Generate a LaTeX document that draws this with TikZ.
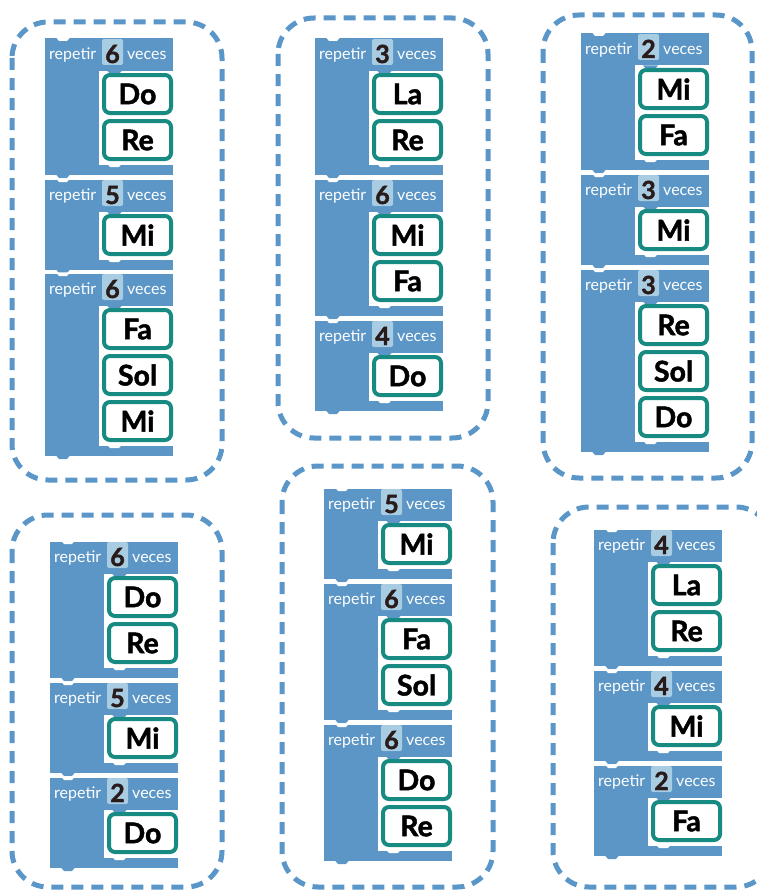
\documentclass[tikz,border=0pt]{standalone}
\usepackage{fontspec}
\setmainfont{Lato}
\newfontfamily\heavyfont{Lato}[BoldFeatures={FakeBold=1.6}]
\definecolor{blk}{HTML}{5B96C6}
\definecolor{dashc}{HTML}{5A96C8}
\definecolor{notet}{HTML}{178A82}
\definecolor{badgec}{HTML}{A8CCE2}
\definecolor{numc}{HTML}{2A1B1B}
\tikzset{
  blkfill/.style={fill=blk, draw=white, line width=1pt},
  notebox/.style={draw=notet, line width=4pt, fill=white, rounded corners=6pt, minimum width=67pt, minimum height=38pt, inner sep=0pt, font=\heavyfont\fontsize{28.5}{30}\selectfont\bfseries, text=black},
  badgebox/.style={fill=badgec, rounded corners=2pt, minimum width=21pt, minimum height=26pt, inner sep=0pt},
  numtxt/.style={font=\heavyfont\fontsize{25}{26}\selectfont\bfseries, text=numc, inner sep=0pt, anchor=base},
  labtxt/.style={font=\fontsize{16}{18}\selectfont, text=white, inner sep=0pt, anchor=base west},
  dashbox/.style={draw=dashc, line width=5pt, dash pattern=on 12pt off 8pt, rounded corners=36pt},
}
\newcommand{\repblk}[5]{%
  \begin{scope}
  \pgfmathsetmacro{\Lx}{#2}
  \pgfmathsetmacro{\Ty}{#3}
  \foreach \nm [count=\i] in {#5} {\xdef\nn{\i}}
  \pgfmathsetmacro{\Rx}{\Lx+129}
  \pgfmathsetmacro{\Hy}{\Ty+33}
  \pgfmathsetmacro{\IB}{\Ty+35+46*\nn-1}
  \pgfmathsetmacro{\By}{\IB+11}
  \path[blkfill] (\Lx,\Ty) -- (\Rx,\Ty) -- (\Rx,\Hy) -- (\Lx+55,\Hy) -- (\Lx+55,\IB) -- (\Rx,\IB) -- (\Rx,\By) -- (\Lx,\By) -- cycle;
  \fill[white] (\Lx+12,\Ty-0.6) -- (\Lx+15,\Ty+3) -- (\Lx+23,\Ty+3) -- (\Lx+26,\Ty-0.6) -- cycle;
  \fill[blk] (\Lx+12,\By-0.5) -- (\Lx+15,\By+3) -- (\Lx+23,\By+3) -- (\Lx+26,\By-0.5) -- cycle;
  \fill[blk] (\Lx+63,\Hy-0.6) -- (\Lx+66,\Hy+3) -- (\Lx+75,\Hy+3) -- (\Lx+78,\Hy-0.6) -- cycle;
  \fill[white] (\Lx+63,\IB-0.5) -- (\Lx+66,\IB+3) -- (\Lx+75,\IB+3) -- (\Lx+78,\IB-0.5) -- cycle;
  \node[labtxt] (#1-rep) at (\Lx+5,\Ty+21.5) {repetir};
  \node[badgebox] (#1-badge) at (\Lx+68.5,\Ty+14) {};
  \node[numtxt] (#1-num) at (\Lx+68.5,\Ty+25) {#4};
  \node[labtxt] (#1-veces) at (\Lx+83,\Ty+21.5) {veces};
  \foreach \nm [count=\i] in {#5} {
    \node[notebox] (#1-n\i) at (\Lx+93.5, \Ty+35+46*\i-25) {\nm};
  }
  \end{scope}
}
\begin{document}
\begin{tikzpicture}[x=1pt,y=-1pt]
\useasboundingbox (0,0) rectangle (756,891);
\fill[white] (0,0) rectangle (756,891);
% dashed frames
\draw[dashbox] (12,22) rectangle (222,480);
\draw[dashbox] (278,18) rectangle (488,438);
\draw[dashbox] (543,15) rectangle (752,478);
\draw[dashbox] (12,515) rectangle (222,887);
\draw[dashbox] (282,466) rectangle (493,887);
\draw[dashbox] (553,507) rectangle (772,887);
% group 1
\repblk{a1}{44}{38}{6}{Do,Re}
\repblk{a2}{44}{179}{5}{Mi}
\repblk{a3}{44}{273}{6}{Fa,Sol,Mi}
% group 2
\repblk{b1}{314}{38}{3}{La,Re}
\repblk{b2}{314}{179}{6}{Mi,Fa}
\repblk{b3}{314}{320}{4}{Do}
% group 3
\repblk{c1}{580}{33}{2}{Mi,Fa}
\repblk{c2}{580}{174}{3}{Mi}
\repblk{c3}{580}{269}{3}{Re,Sol,Do}
% group 4
\repblk{d1}{49}{541}{6}{Do,Re}
\repblk{d2}{49}{682}{5}{Mi}
\repblk{d3}{49}{777}{2}{Do}
% group 5
\repblk{e1}{323}{488}{5}{Mi}
\repblk{e2}{323}{583}{6}{Fa,Sol}
\repblk{e3}{323}{724}{6}{Do,Re}
% group 6
\repblk{f1}{593}{529}{4}{La,Re}
\repblk{f2}{593}{670}{4}{Mi}
\repblk{f3}{593}{765}{2}{Fa}
\end{tikzpicture}
\end{document}
